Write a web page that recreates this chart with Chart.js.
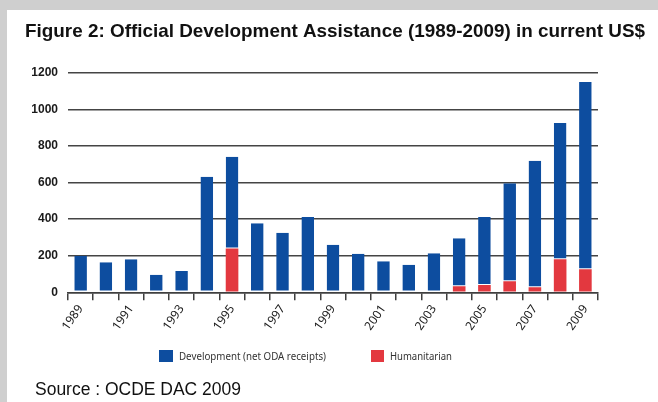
<!DOCTYPE html>
<html>
<head>
<meta charset="utf-8">
<script src="https://cdn.jsdelivr.net/npm/chart.js@4.4.1/dist/chart.umd.min.js"></script>
<style>
    html, body { margin: 0; padding: 0; background: #cfcfcf; width: 658px; height: 402px; overflow: hidden; }
    #frame { position: absolute; left: 7px; top: 10px; width: 651px; height: 392px; background: #fff; }
    canvas { display: block; }
</style>
</head>
<body>
<div id="frame"><canvas id="odaChart" width="651" height="392"></canvas></div>
<script>
// Data (USD millions, current)
const years = [
    "1989", "1990", "1991", "1992", "1993", "1994", "1995", "1996", "1997", "1998", "1999",
    "2000", "2001", "2002", "2003", "2004", "2005", "2006", "2007", "2008", "2009"
];
const development = [200, 164, 180, 96, 116, 632, 501, 377, 326, 411, 260, 211, 169, 151, 213, 262, 371, 536, 692, 745, 1023];
const humanitarian = [0, 0, 0, 0, 0, 0, 240, 0, 0, 0, 0, 0, 0, 0, 0, 33, 40, 60, 27, 180, 126];
const yTicks = [0, 200, 400, 600, 800, 1000, 1200];

const titleText = "Figure 2: Official Development Assistance (1989-2009) in current US$";
const sourceText = "Source : OCDE DAC 2009";

// Title, legend and source note drawn on the canvas
const extrasPlugin = {
    id: "extras",
    afterDraw(chart) {
        const ctx = chart.ctx;
        ctx.save();
        ctx.fillStyle = "#111";
        ctx.textBaseline = "alphabetic";
        ctx.textAlign = "left";
        ctx.font = "bold 19px 'Liberation Sans', Arial, sans-serif";
        ctx.fillText(titleText, 18, 27, 620);

        ctx.font = "18px 'Liberation Sans', Arial, sans-serif";
        ctx.fillText(sourceText, 28, 385, 206);

        // legend: Development first, then Humanitarian
        const items = [
            { ds: chart.data.datasets[1], x: 152, w: 14, textMax: 147 },
            { ds: chart.data.datasets[0], x: 364, w: 13, textMax: 62 }
        ];
        ctx.font = "11px 'Noto Sans', 'Open Sans', sans-serif";
        ctx.textBaseline = "middle";
        items.forEach(it => {
            ctx.fillStyle = it.ds.backgroundColor;
            ctx.fillRect(it.x, 340, it.w, 12);
            ctx.fillStyle = "#333";
            ctx.fillText(it.ds.label, it.x + it.w + 6, 347, it.textMax);
        });
        ctx.restore();
    }
};

const ctx = document.getElementById("odaChart").getContext("2d");
new Chart(ctx, {
    type: "bar",
    data: {
        labels: years,
        datasets: [
            {
                label: "Humanitarian",
                data: humanitarian,
                backgroundColor: "#e3383f",
                borderWidth: 0,
                barPercentage: 0.5,
                categoryPercentage: 1
            },
            {
                label: "Development (net ODA receipts)",
                data: development,
                backgroundColor: "#0d4d9f",
                borderColor: "#ffffff",
                borderWidth: { top: 0, left: 0, right: 0, bottom: 1 },
                borderSkipped: false,
                barPercentage: 0.5,
                categoryPercentage: 1
            }
        ]
    },
    options: {
        responsive: false,
        animation: false,
        devicePixelRatio: 1,
        layout: { padding: { top: 62.7, right: 60, bottom: 0, left: 0 } },
        plugins: {
            legend: { display: false },
            title: { display: false },
            tooltip: { enabled: false }
        },
        scales: {
            x: {
                stacked: true,
                afterFit: (scale) => { scale.height = 109.7; },
                grid: {
                    offset: true,
                    drawOnChartArea: false,
                    drawTicks: true,
                    tickLength: 8,
                    color: "#3f3f3f",
                    lineWidth: 1.5
                },
                border: { display: true, color: "#3f3f3f", width: 1.5 },
                ticks: {
                    autoSkip: false,
                    minRotation: 55,
                    maxRotation: 55,
                    padding: 2,
                    color: "#1a1a1a",
                    font: { family: "'Noto Sans', 'Open Sans', sans-serif", size: 12 },
                    callback: (value, index) => (index % 2 === 0 ? years[index] : "")
                }
            },
            y: {
                stacked: true,
                min: 0,
                max: 1200,
                afterFit: (scale) => { scale.width = 61; },
                afterBuildTicks: (scale) => { scale.ticks = yTicks.map(v => ({ value: v })); },
                grid: { color: "#444", lineWidth: 1.6, drawTicks: false },
                border: { display: false },
                ticks: {
                    padding: 10,
                    color: "#1a1a1a",
                    font: { family: "'Liberation Sans', Arial, sans-serif", size: 12, weight: "bold" },
                    callback: (value) => String(value)
                }
            }
        }
    },
    plugins: [extrasPlugin]
});
</script>
</body>
</html>
